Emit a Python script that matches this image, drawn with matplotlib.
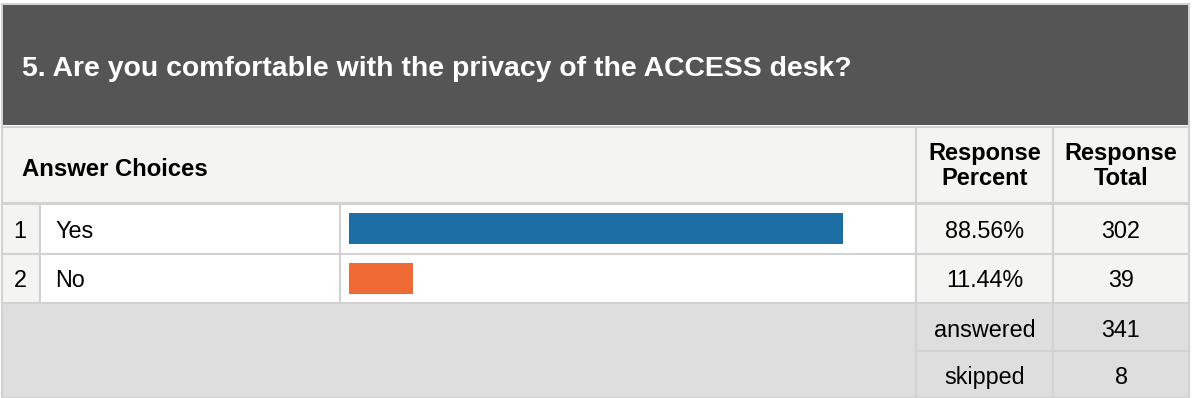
import matplotlib
matplotlib.use('Agg')
import matplotlib.pyplot as plt
from matplotlib.patches import Rectangle

plt.rcParams['font.family'] = ['Liberation Sans', 'DejaVu Sans']

title = '5. Are you comfortable with the privacy of the ACCESS desk?'
choices = ['Yes', 'No']
percents = [88.56, 11.44]
totals = [302, 39]
answered = 341
skipped = 8
bar_colors = ['#1c6ea4', '#f06a35']

W, H = 1192, 398
fig = plt.figure(figsize=(W / 100, H / 100), dpi=100)
ax = fig.add_axes([0, 0, 1, 1])
ax.set_xlim(0, W)
ax.set_ylim(H, 0)
ax.axis('off')

line_c = '#d2d2d2'
light = '#f4f4f3'
grey = '#dedede'
fs = 16.8

def box(x0, y0, x1, y1, fc, ec=line_c, lw=1.5):
    ax.add_patch(Rectangle((x0, y0), x1 - x0, y1 - y0, facecolor=fc,
                           edgecolor=ec, linewidth=lw))

# outer frame
box(2, 4, 1189, 398, 'white')
# title band
box(3, 5, 1188, 125, '#545554', ec='#545554', lw=0)
ax.text(22, 66, title, color='white', fontsize=20.4, fontweight='bold',
        va='center_baseline', ha='left')

# header row
col_pct, col_tot, right = 916, 1053, 1189
box(2, 127, col_pct, 203, light)
box(col_pct, 127, col_tot, 203, light)
box(col_tot, 127, right, 203, light)
ax.text(22, 167, 'Answer Choices', fontsize=17.2, fontweight='bold',
        va='center_baseline')
ax.text((col_pct + col_tot) / 2, 166, 'Response\nPercent', fontsize=17,
        fontweight='bold', va='center', ha='center', linespacing=1.15)
ax.text((col_tot + right) / 2, 166, 'Response\nTotal', fontsize=17,
        fontweight='bold', va='center', ha='center', linespacing=1.15)

# data rows
row_top, row_h = 204, 49.5
for i, (c, p, t) in enumerate(zip(choices, percents, totals)):
    y0 = row_top + i * row_h
    y1 = y0 + row_h
    yc = (y0 + y1) / 2
    box(2, y0, 40, y1, light)
    box(40, y0, 340, y1, 'white')
    box(340, y0, col_pct, y1, 'white')
    box(col_pct, y0, col_tot, y1, light)
    box(col_tot, y0, right, y1, light)
    ax.text(20, yc, str(i + 1), fontsize=fs, va='center_baseline', ha='center')
    ax.text(55, yc, c, fontsize=fs, va='center_baseline', ha='left')
    ax.text((col_pct + col_tot) / 2, yc, '{:.2f}%'.format(p), fontsize=fs,
            va='center_baseline', ha='center')
    ax.text((col_tot + right) / 2, yc, str(t), fontsize=fs,
            va='center_baseline', ha='center')

# summary rows
sum_top = row_top + len(choices) * row_h
sum_h = (H - sum_top) / 2
box(2, sum_top, col_pct, H, grey)
for j, (lab, val) in enumerate([('answered', answered), ('skipped', skipped)]):
    y0 = sum_top + j * sum_h
    y1 = y0 + sum_h
    yc = (y0 + y1) / 2 + 1
    box(col_pct, y0, col_tot, y1, grey)
    box(col_tot, y0, right, y1, grey)
    ax.text((col_pct + col_tot) / 2, yc, lab, fontsize=fs,
            va='center_baseline', ha='center')
    ax.text((col_tot + right) / 2, yc, str(val), fontsize=fs,
            va='center_baseline', ha='center')

# bars
bx0, bw = 349, 558
bax = fig.add_axes([bx0 / W, (H - sum_top) / H, bw / W, (sum_top - row_top) / H])
bax.barh(range(len(choices)), percents, height=0.63, color=bar_colors)
bax.set_xlim(0, 100)
bax.set_ylim(len(choices) - 0.5, -0.5)
bax.axis('off')

fig.savefig('out.png', dpi=100)
